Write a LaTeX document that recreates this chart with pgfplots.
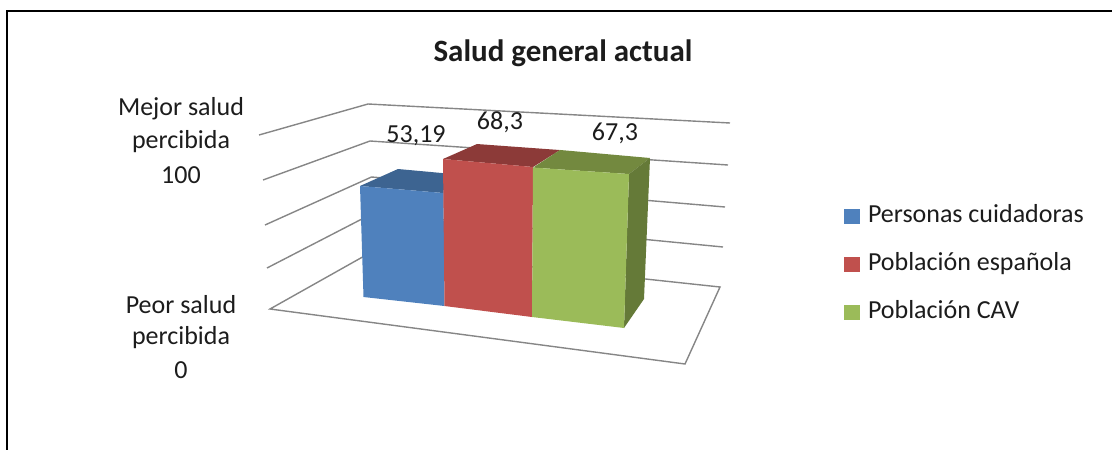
\documentclass[border=0pt]{standalone}
\usepackage{pgfplots}
\pgfplotsset{compat=1.18}
\usepackage{fontspec}
\setmainfont{Carlito}

% Bar values
\def\valA{53.19}
\def\valB{68.3}
\def\valC{67.3}

\definecolor{barA}{HTML}{4F81BD}
\definecolor{barAtop}{HTML}{3D6491}
\definecolor{barB}{HTML}{C0504D}
\definecolor{barBtop}{HTML}{8C3A38}
\definecolor{barC}{HTML}{9BBB59}
\definecolor{barCtop}{HTML}{73893F}
\definecolor{barCside}{HTML}{657A38}
\definecolor{gridc}{HTML}{868686}
\definecolor{txt}{HTML}{1C1C1C}

% Face of a bar: each vertex is a floor position (px,py) that moves by (sx,sy) per unit of value
\newcommand{\face}[3]{%
  \addplot[fill=#1,draw=none,#3] table[
    x expr={\thisrow{px}+#2*\thisrow{sx}},
    y expr={\thisrow{py}-#2*\thisrow{sy}}]
}

\begin{document}
\begin{tikzpicture}
\path[use as bounding box] (0,0) rectangle (1112pt,450pt);
\begin{axis}[
  at={(0,0)}, anchor=south west,
  scale only axis, width=1112pt, height=450pt,
  xmin=0, xmax=1112, ymin=0, ymax=450, y dir=reverse,
  hide axis, clip=true,
  font=\fontsize{26}{30}\selectfont,
  legend image code/.code={\fill[#1] (0pt,-7.5pt) rectangle (16pt,7.5pt);},
  legend style={draw=none, fill=none, at={(axis cs:844,204)}, anchor=north west,
    inner sep=0pt, outer sep=0pt, text=txt,
    font=\fontsize{26}{30}\selectfont,
    nodes={inner ysep=0pt, inner xsep=0pt, text height=18pt, text depth=6pt},
    row sep=24pt, column sep=8pt},
  legend cell align=left,
]
% Frame
\addplot[black,line width=2pt,forget plot] coordinates {(7,450) (7,10.5) (1112,10.5)};

% Wall and side grid lines
\addplot[gridc,line width=1.4pt,forget plot] coordinates {(259,135) (368,104) (730,123)};
\addplot[gridc,line width=1.4pt,forget plot] coordinates {(263,180) (370,141) (728,165)};
\addplot[gridc,line width=1.4pt,forget plot] coordinates {(265,225) (371.5,177) (725,207)};
\addplot[gridc,line width=1.4pt,forget plot] coordinates {(267,268) (373.5,213) (723,247)};
\addplot[gridc,line width=1.4pt,forget plot] coordinates {(270,309) (375,250) (720,287) (685,364)} -- cycle;

% Blue bar
\face{barAtop}{\valA}{forget plot} {
px py sx sy
363.5 297 -0.0658 2.087
401 274 -0.0564 1.974
446 280 -0.0188 2.006
444.5 306 -0.0188 2.124
} -- cycle;
\face{barA}{\valA}{} {
px py sx sy
363.5 297 -0.0658 2.087
444.5 306 -0.0188 2.124
444.5 306 0 0
363.5 297 0 0
} -- cycle;
\addlegendentry{Personas cuidadoras}

% Red bar
\face{barBtop}{\valB}{forget plot} {
px py sx sy
444.5 306 -0.022 2.152
465 277 0.1757 1.947
552 288 0.117 2.02
532 317 0.0146 2.196
} -- cycle;
\face{barB}{\valB}{} {
px py sx sy
444.5 306 -0.022 2.152
532 317 0.0146 2.196
532 317 0 0
444.5 306 0 0
} -- cycle;
\addlegendentry{Población española}

% Green bar
\face{barCtop}{\valC}{forget plot} {
px py sx sy
532 317 0.0149 2.22
552 288 0.1189 2.051
644 299 0.0892 2.095
624 328 0.0743 2.288
} -- cycle;
\face{barCside}{\valC}{forget plot} {
px py sx sy
624 328 0.0743 2.288
644 299 0.0892 2.095
644 299 0 0
624 328 0 0
} -- cycle;
\face{barC}{\valC}{} {
px py sx sy
532 317 0.0149 2.22
624 328 0.0743 2.288
624 328 0 0
532 317 0 0
} -- cycle;
\addlegendentry{Población CAV}

% Value labels
\node[txt] at (axis cs:416,136) {53,19};
\node[txt] at (axis cs:500,122) {68,3};
\node[txt] at (axis cs:615,133) {67,3};

% Scale labels
\node[txt] at (axis cs:181,109) {Mejor salud};
\node[txt] at (axis cs:181,142) {percibida};
\node[txt] at (axis cs:181,175) {100};
\node[txt] at (axis cs:181,305) {Peor salud};
\node[txt] at (axis cs:181,338) {percibida};
\node[txt] at (axis cs:181,370) {0};

% Title
\node[txt,font=\fontsize{31}{36}\selectfont\bfseries] at (axis cs:563,53) {Salud general actual};
\end{axis}
\end{tikzpicture}
\end{document}
